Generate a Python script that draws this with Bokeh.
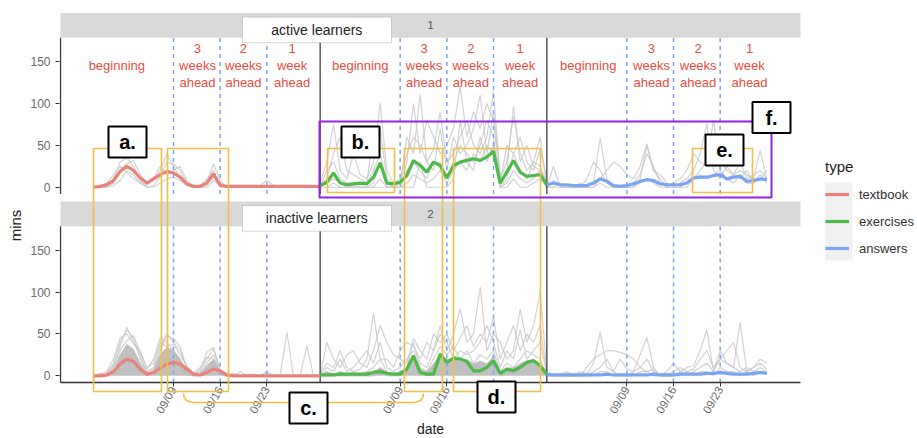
import math
from bokeh.plotting import figure
from bokeh.models import (Range1d, FixedTicker, BoxAnnotation, Label, Legend, LegendItem,
                          PolyAnnotation, Title)
from bokeh.embed import file_html
from bokeh.resources import INLINE
from bokeh.core.properties import value

# ---------------- data ----------------
TYPES = ["textbook", "exercises", "answers"]
TYPE_COLORS = ["#e8837b", "#4dba4a", "#7aa5f2"]
SEG_START = [0, 34, 68]            # first day of each type's period on the shared day axis
TICK_DAYS = [12, 19, 26]           # 09/09, 09/16, 09/23 inside each period
TICK_LABELS = ["09/09", "09/16", "09/23"]
PERIOD_TEXT = ["beginning", "3\nweeks\nahead", "2\nweeks\nahead", "1\nweek\nahead"]
PERIOD_POS = [[3.5, 15.6, 22.5, 29.8], [6.0, 15.6, 22.6, 30.0], [6.2, 15.7, 22.7, 30.4]]
FACETS = ["active learners", "inactive learners"]
FACET_IDS = ["1", "2"]
YTICKS = [0, 50, 100, 150]

# mean minutes per day (smoothed), per type
ACTIVE_MEAN = [
    [0, 1, 3, 8, 19, 25, 20, 11, 5, 10, 15, 19, 17, 12, 4, 1, 1, 5, 16, 2, 1, 1, 1, 1, 1, 1, 1, 1, 1, 1, 1, 1, 1, 1, 1],
    [2, 6, 17, 5, 3, 4, 5, 4, 12, 29, 5, 4, 6, 14, 32, 26, 18, 30, 26, 11, 26, 30, 32, 34, 32, 36, 43, 5, 18, 32, 18, 13, 14, 15, 3],
    [3, 5, 3, 3, 2, 2, 2, 5, 10, 7, 2, 1, 2, 4, 7, 9, 8, 4, 3, 3, 3, 5, 11, 12, 12, 14, 15, 10, 12, 13, 7, 8, 10, 9],
]
INACTIVE_MEAN = [
    [0, 0, 1, 5, 14, 20, 17, 8, 2, 4, 9, 14, 16, 14, 8, 2, 1, 4, 8, 6, 1, 0, 0, 0, 0, 0, 0, 0, 0, 0, 0, 0, 0, 0, 0],
    [1, 1, 1, 2, 2, 2, 2, 2, 4, 5, 3, 2, 2, 8, 24, 4, 2, 2, 26, 16, 21, 20, 17, 6, 6, 10, 18, 3, 8, 6, 10, 16, 18, 12, 2],
    [2, 1, 1, 1, 1, 1, 1, 1, 1, 2, 1, 1, 1, 1, 1, 1, 2, 1, 1, 1, 2, 2, 2, 2, 3, 3, 4, 3, 2, 2, 2, 3, 4, 3],
]

# individual learners (gray), per type
ACTIVE_TRACES = [
    [
        [0, 0, 2, 10, 30, 35, 25, 8, 0, 2, 12, 30, 28, 20, 5, 0, 0, 5, 28, 8, 0, 0, 0, 0, 0, 0, 0, 0, 0, 0, 0, 0, 0, 0, 0],
        [0, 0, 0, 5, 20, 28, 32, 15, 5, 8, 20, 40, 25, 10, 3, 0, 2, 10, 20, 2, 0, 0, 0, 0, 0, 0, 0, 0, 0, 0, 0, 0, 0, 0, 0],
        [0, 2, 5, 15, 25, 18, 10, 5, 2, 10, 25, 15, 20, 25, 8, 2, 0, 3, 12, 5, 0, 0, 0, 0, 0, 2, 8, 2, 0, 0, 0, 0, 0, 0, 0],
        [0, 0, 0, 2, 8, 20, 15, 5, 0, 0, 5, 10, 12, 8, 2, 0, 0, 0, 8, 2, 0, 0, 0, 0, 0, 0, 0, 0, 0, 0, 0, 0, 0, 0, 0],
    ],
    [
        [5, 30, 75, 20, 10, 40, 15, 10, 30, 100, 20, 5, 10, 40, 60, 50, 30, 45, 90, 30, 40, 60, 80, 50, 40, 60, 115, 10, 30, 85, 40, 20, 30, 25, 5],
        [2, 10, 40, 60, 20, 15, 10, 5, 65, 70, 10, 5, 5, 30, 100, 40, 80, 60, 40, 50, 70, 120, 60, 90, 70, 100, 80, 5, 50, 40, 60, 30, 20, 45, 10],
        [0, 20, 30, 10, 5, 5, 5, 5, 20, 40, 5, 0, 5, 60, 40, 111, 30, 20, 70, 20, 60, 40, 50, 70, 110, 40, 90, 15, 20, 97, 30, 50, 25, 20, 5],
        [0, 5, 10, 5, 0, 2, 0, 0, 5, 30, 0, 0, 0, 20, 30, 20, 10, 30, 30, 10, 30, 50, 40, 30, 50, 80, 60, 0, 10, 40, 20, 10, 30, 60, 0],
        [0, 0, 5, 0, 0, 0, 0, 0, 0, 10, 0, 0, 0, 5, 15, 10, 5, 10, 20, 5, 20, 30, 20, 40, 30, 50, 40, 0, 5, 20, 10, 5, 10, 20, 0],
        [0, 0, 0, 0, 0, 0, 0, 0, 0, 0, 0, 0, 0, 0, 0, 30, 0, 0, 0, 0, 10, 80, 30, 20, 60, 30, 50, 0, 0, 10, 0, 0, 5, 10, 0],
    ],
    [
        [0, 0, 5, 0, 0, 0, 10, 30, 20, 5, 0, 0, 0, 0, 10, 50, 20, 15, 5, 0, 0, 0, 10, 20, 30, 80, 20, 10, 15, 20, 15, 10, 44, 10],
        [0, 8, 2, 0, 0, 5, 0, 5, 59, 10, 0, 0, 0, 5, 15, 40, 25, 5, 0, 0, 5, 10, 20, 40, 76, 20, 10, 25, 15, 10, 20, 5, 10, 20],
        [0, 0, 0, 0, 2, 0, 0, 0, 10, 20, 30, 25, 15, 10, 25, 52, 20, 10, 0, 5, 10, 20, 40, 30, 25, 30, 35, 20, 15, 30, 10, 15, 20, 10],
        [0, 25, 0, 0, 0, 0, 0, 0, 5, 0, 0, 0, 0, 0, 5, 10, 5, 0, 0, 0, 0, 5, 10, 15, 10, 15, 20, 10, 5, 15, 5, 5, 15, 5],
    ],
]
INACTIVE_TRACES = [
    [
        [0, 0, 2, 15, 40, 55, 45, 20, 5, 10, 35, 50, 40, 30, 10, 2, 5, 20, 32, 8, 2, 0, 5, 0, 2, 0, 3, 0, 0, 0, 0, 0, 0, 0, 0],
        [0, 2, 5, 20, 45, 50, 38, 30, 8, 20, 45, 40, 30, 20, 5, 0, 8, 28, 34, 5, 0, 3, 0, 0, 0, 0, 0, 0, 0, 52, 0, 0, 0, 0, 0],
        [0, 0, 0, 10, 35, 58, 40, 25, 2, 5, 30, 48, 44, 35, 8, 0, 3, 15, 25, 3, 0, 0, 0, 2, 0, 0, 5, 0, 0, 0, 0, 0, 36, 0, 0],
        [0, 0, 3, 12, 30, 42, 48, 28, 10, 15, 40, 35, 38, 25, 12, 3, 10, 22, 20, 6, 2, 0, 0, 0, 0, 0, 0, 0, 0, 0, 0, 0, 0, 0, 0],
        [0, 3, 0, 8, 25, 35, 30, 15, 5, 8, 25, 30, 28, 18, 5, 0, 2, 12, 18, 4, 0, 0, 0, 0, 0, 0, 0, 0, 0, 0, 0, 0, 0, 0, 0],
        [0, 0, 0, 5, 15, 25, 20, 10, 0, 3, 15, 20, 18, 10, 2, 0, 0, 8, 12, 2, 0, 0, 0, 0, 0, 0, 0, 0, 0, 0, 0, 0, 0, 0, 0],
    ],
    [
        [2, 15, 10, 30, 10, 5, 8, 20, 75, 20, 20, 10, 30, 40, 35, 20, 40, 30, 60, 30, 50, 80, 40, 50, 106, 30, 50, 40, 20, 30, 80, 40, 60, 100, 5],
        [0, 40, 20, 10, 25, 30, 15, 10, 30, 60, 40, 25, 20, 15, 45, 30, 20, 50, 40, 50, 30, 45, 60, 35, 50, 40, 70, 20, 40, 60, 30, 50, 40, 60, 0],
        [0, 10, 5, 20, 5, 10, 20, 30, 15, 40, 10, 5, 10, 20, 30, 15, 10, 30, 50, 40, 20, 30, 25, 30, 40, 60, 40, 10, 30, 20, 55, 20, 30, 40, 2],
        [0, 5, 0, 5, 0, 5, 0, 5, 10, 20, 5, 0, 5, 10, 40, 10, 5, 20, 35, 25, 35, 20, 30, 15, 25, 20, 30, 5, 15, 10, 20, 30, 25, 20, 0],
        [0, 0, 0, 0, 0, 0, 0, 0, 0, 10, 0, 0, 0, 5, 20, 5, 0, 10, 25, 15, 20, 10, 15, 10, 15, 10, 25, 0, 5, 5, 10, 15, 20, 10, 0],
    ],
    [
        [0, 0, 2, 0, 0, 5, 2, 15, 52, 10, 5, 20, 8, 5, 25, 46, 10, 0, 5, 15, 5, 10, 12, 30, 55, 5, 20, 15, 10, 64, 5, 10, 20, 15],
        [0, 2, 0, 5, 0, 0, 10, 20, 25, 30, 30, 28, 25, 20, 10, 5, 8, 0, 0, 5, 10, 5, 8, 20, 30, 10, 20, 30, 40, 10, 5, 10, 15, 8],
        [0, 0, 0, 0, 2, 0, 0, 5, 10, 20, 5, 0, 0, 5, 10, 20, 5, 0, 0, 0, 5, 0, 5, 10, 15, 5, 30, 15, 10, 5, 10, 5, 10, 5],
        [0, 0, 0, 0, 0, 0, 0, 0, 5, 5, 0, 0, 0, 0, 5, 5, 0, 0, 0, 0, 0, 5, 0, 5, 5, 0, 10, 5, 5, 0, 5, 0, 5, 3],
    ],
]
# level below which the many inactive learners' lines overlap into a solid mass
INACTIVE_MASS = [
    [0, 0, 0, 6, 25, 38, 32, 15, 2, 6, 25, 35, 30, 20, 4, 0, 2, 12, 20, 3, 0, 0, 0, 0, 0, 0, 0, 0, 0, 0, 0, 0, 0, 0, 0],
    [0, 5, 3, 5, 3, 3, 3, 5, 5, 10, 5, 3, 5, 8, 20, 8, 5, 15, 25, 20, 20, 18, 20, 15, 18, 15, 22, 5, 10, 10, 15, 18, 20, 15, 0],
]

# ---------------- layout constants ----------------
FONT = "Liberation Sans"
D = 225                      # vertical offset of the "active" panel on the shared scale
PANEL = (-8, 178.5)          # panel extent in minutes
STRIP = (178.5, 208)         # facet strip extent in minutes
XLIM = (-4.95, 106.05)
Y0, Y1 = -74.8, 433.5        # shared vertical scale of the canvas area
GRAY = "#c4c4c4"
YELLOW = "#f0bf45"
PURPLE = "#9323e6"
RED_TXT = "#e84d43"

p = figure(width=917, height=438, x_range=Range1d(-5.1, 123.6), y_range=Range1d(Y0, Y1),
           output_backend="svg", toolbar_location=None,
           min_border_left=59, min_border_right=0, min_border_top=12, min_border_bottom=0)
p.extra_y_ranges = {"top": Range1d(Y0 - D, Y1 - D)}
p.outline_line_color = None
p.grid.visible = False
p.background_fill_color = "white"
p.border_fill_color = "white"

def days(k, n):
    return [SEG_START[k] + j for j in range(n)]

# strips and facet labels
for off, name, fid in [(D, FACETS[0], FACET_IDS[0]), (0, FACETS[1], FACET_IDS[1])]:
    p.quad(left=[XLIM[0]], right=[XLIM[1]], bottom=[STRIP[0] + off], top=[STRIP[1] + off],
           fill_color="#d9d9d9", line_color=None)
    p.add_layout(BoxAnnotation(left=22.35, right=44.7, bottom=172.5 + off, top=203 + off,
                               fill_color="white", fill_alpha=1, line_color="#7a7a7a", line_width=1))
    p.add_layout(Label(x=33.5, y=188 + off, text=name, text_align="center", text_baseline="middle",
                       text_font=FONT, text_font_size="14px", text_color="#222222"))
    p.add_layout(Label(x=50.55, y=193 + off, text=fid, text_align="center", text_baseline="middle",
                       text_font=FONT, text_font_size="11px", text_color="#555555"))

# gray learner lines
for traces_by_seg, rng in [(ACTIVE_TRACES, "top"), (INACTIVE_TRACES, "default")]:
    xs, ys = [], []
    for k, traces in enumerate(traces_by_seg):
        for tr in traces:
            xs.append(days(k, len(tr)))
            ys.append(tr)
    p.multi_line(xs, ys, line_color=GRAY, line_alpha=0.75, line_width=1.2, y_range_name=rng)
for k, mass in enumerate(INACTIVE_MASS):
    p.varea(x=days(k, len(mass)), y1=[0] * len(mass), y2=mass, fill_color="#b5b5b5", fill_alpha=0.85)

# vertical reference lines and panel y-axis lines
for off in (D, 0):
    tx = [SEG_START[k] + d for k in range(3) for d in TICK_DAYS]
    p.segment(x0=tx, x1=tx, y0=[PANEL[0] + off] * len(tx), y1=[PANEL[1] + off] * len(tx),
              line_color="#7aa6ee", line_dash="4 4", line_width=1.5)
    bx = SEG_START[1:]
    p.segment(x0=bx, x1=bx, y0=[PANEL[0] + off] * 2, y1=[PANEL[1] + off] * 2,
              line_color="#5a5a5a", line_width=1.5)
    p.segment(x0=[XLIM[0]], x1=[XLIM[0]], y0=[PANEL[0] + off], y1=[PANEL[1] + off],
              line_color="#333333", line_width=1.3)

# mean lines
legend_renderers = []
for k in range(3):
    r = p.line(days(k, len(ACTIVE_MEAN[k])), ACTIVE_MEAN[k], line_color=TYPE_COLORS[k],
               line_width=3.2, y_range_name="top")
    legend_renderers.append(r)
    p.line(days(k, len(INACTIVE_MEAN[k])), INACTIVE_MEAN[k], line_color=TYPE_COLORS[k], line_width=3.2)

# period labels (active panel)
lx, lt = [], []
for k in range(3):
    for pos, txt in zip(PERIOD_POS[k], PERIOD_TEXT):
        lx.append(SEG_START[k] + pos)
        lt.append(txt)
p.text(x=lx, y=[145] * len(lx), text=lt, y_range_name="top", text_align="center",
       text_baseline="middle", text_font=value(FONT), text_font_size="13px",
       text_color=RED_TXT, text_line_height=1.15)

# axes
p.yaxis.ticker = FixedTicker(ticks=YTICKS + [t + D for t in YTICKS])
p.yaxis.major_label_overrides = {t + D: str(t) for t in YTICKS}
p.yaxis.axis_line_color = None
p.xaxis.ticker = FixedTicker(ticks=[SEG_START[k] + d for k in range(3) for d in TICK_DAYS])
p.xaxis.major_label_overrides = {SEG_START[k] + d: lab for k in range(3)
                                 for d, lab in zip(TICK_DAYS, TICK_LABELS)}
p.xaxis.bounds = XLIM
p.xaxis.fixed_location = PANEL[0]
p.xaxis.axis_line_color = "#333333"
p.xaxis.axis_line_width = 1.3
p.xaxis.major_label_orientation = math.pi / 3
p.xaxis.axis_label = "date"
for ax in (p.xaxis, p.yaxis):
    ax.major_tick_out = 4
    ax.major_tick_in = 0
    ax.minor_tick_out = 0
    ax.minor_tick_in = 0
    ax.major_tick_line_color = "#333333"
    ax.major_label_text_font = FONT
    ax.major_label_text_color = "#6b6b6b"
    ax.axis_label_text_font = FONT
    ax.axis_label_text_font_style = "normal"
    ax.axis_label_text_font_size = "14px"
    ax.axis_label_text_color = "#222222"
p.yaxis.major_label_text_font_size = "12px"
p.xaxis.major_label_text_font_size = "11.5px"
p.xaxis.major_label_standoff = 1
p.xaxis.axis_label_standoff = 0
p.add_layout(Title(text="mins", align="center", offset=24, standoff=7, text_font=FONT,
                   text_font_size="15px", text_font_style="normal", text_color="#222222"), "left")

# legend
p.add_layout(BoxAnnotation(left=109.8, right=113.85, bottom=137.6, top=230.7,
                           fill_color="#f0f0f0", fill_alpha=1, line_color=None, level="underlay"))
legend = Legend(items=[LegendItem(label=t, renderers=[r]) for t, r in zip(TYPES, legend_renderers)],
                title="type", location=(766, 179), padding=0, margin=0, spacing=5,
                glyph_width=24, glyph_height=22, label_height=22, label_standoff=10,
                title_standoff=8, background_fill_alpha=0, border_line_color=None,
                label_text_font=FONT, label_text_font_size="13px", label_text_color="#333333",
                title_text_font=FONT, title_text_font_size="15px", title_text_color="#222222",
                title_text_font_style="normal")
p.add_layout(legend)

# highlight boxes
for l, r, b, t in [(0, 10.2, -18.7, 271.2), (11.1, 20.25, -18.7, 271.2), (35.1, 45.15, 218.7, 271.2),
                   (46.65, 52.35, -18.7, 271.2), (54.0, 67.05, -18.7, 271.2), (89.85, 98.85, 218.7, 271.2)]:
    p.add_layout(BoxAnnotation(left=l, right=r, bottom=b, top=t, fill_alpha=0,
                               line_color=YELLOW, line_width=1.6, line_alpha=1))
p.add_layout(BoxAnnotation(left=33.9, right=101.7, bottom=212.8, top=303.4, fill_alpha=0,
                           line_color=PURPLE, line_width=2, line_alpha=1))
bx = [13.5, 13.6, 13.9, 14.4, 15.0, 48.0, 48.6, 49.1, 49.4, 49.5]
by = [-21.1, -25.5, -29.0, -31.0, -31.8, -31.8, -31.0, -29.0, -25.5, -21.1]
p.add_layout(PolyAnnotation(xs=bx + bx[::-1], ys=by + by[::-1], fill_alpha=0,
                            line_color=YELLOW, line_width=1.6, line_alpha=1))
for txt, cx, cy in [("a.", 5.1, 279), ("b.", 40.05, 279), ("c.", 32.25, -38.4),
                    ("d.", 60.45, -25.3), ("e.", 94.65, 269.5), ("f.", 101.7, 308.2)]:
    p.add_layout(BoxAnnotation(left=cx - 2.85, right=cx + 2.85, bottom=cy - 18.5, top=cy + 18.5,
                               fill_color="white", fill_alpha=1, line_color="black", line_width=2,
                               line_alpha=1, level="overlay"))
    p.add_layout(Label(x=cx, y=cy, text=txt, text_align="center", text_baseline="middle",
                       text_font=FONT, text_font_size="20px", text_font_style="bold",
                       text_color="black", level="overlay"))

open("out.html", "w").write(file_html(p, INLINE))
